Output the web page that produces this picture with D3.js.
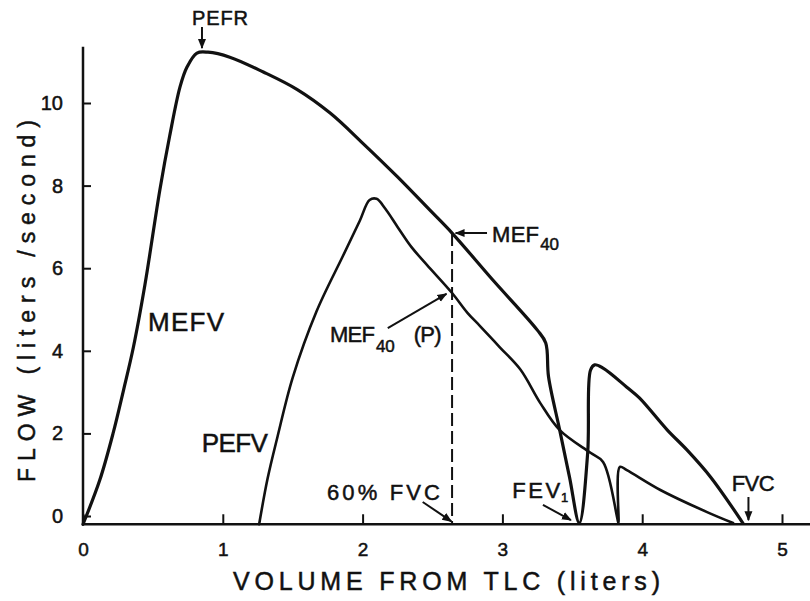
<!DOCTYPE html>
<html>
<head>
<meta charset="utf-8">
<script src="https://cdn.jsdelivr.net/npm/d3@7"></script>
<style>
  html, body { margin: 0; padding: 0; background: #fff; }
  svg { display: block; }
  text { font-family: "Liberation Sans", Arial, sans-serif; fill: #111; stroke: #111; stroke-width: 0.5px; }
</style>
</head>
<body>
<svg id="chart" width="810" height="601"></svg>
<script>
// ---- data (volume from TLC in liters, flow in liters/second) ----
const xTicks = [0, 1, 2, 3, 4, 5];
const yTicks = [0, 2, 4, 6, 8, 10];

const mefvVolume = [0, 0.12, 0.215, 0.29, 0.36, 0.443, 0.55, 0.62, 0.694, 0.744, 0.815, 0.894, 1.05, 1.29, 1.53, 1.77, 2.00, 2.25, 2.48, 2.64, 2.93, 3.25, 3.31, 3.33, 3.41, 3.48, 3.55, 3.61, 3.63, 3.66, 3.72, 3.89, 3.98, 4.18, 4.32, 4.49, 4.72];
const mefvFlow   = [-0.2, 0.87, 2.0, 3.05, 4.08, 5.6, 7.9, 9.2, 10.39, 10.87, 11.21, 11.23, 11.11, 10.75, 10.33, 9.75, 9.03, 8.21, 7.41, 6.85, 5.72, 4.50, 4.19, 3.37, 2.08, 0.94, -0.17, 1.53, 3.53, 3.66, 3.58, 3.12, 2.86, 2.08, 1.60, 0.94, -0.17];

const pefvVolume = [1.26, 1.32, 1.39, 1.50, 1.67, 1.86, 1.98, 2.05, 2.10, 2.16, 2.25, 2.35, 2.46, 2.64, 2.75, 2.84, 2.98, 3.13, 3.27, 3.41, 3.63, 3.72, 3.82, 3.83, 3.84, 3.89, 4.13, 4.46, 4.65];
const pefvFlow   = [-0.2, 0.9, 1.9, 3.35, 4.95, 6.3, 7.15, 7.65, 7.68, 7.45, 7.0, 6.51, 6.08, 5.40, 4.92, 4.60, 4.09, 3.54, 2.74, 2.08, 1.53, 1.31, -0.02, -0.17, 1.19, 1.11, 0.63, 0.10, -0.17];

const baselineFlow = -0.2;    // drawn x-axis line sits slightly below flow 0
const mef40Volume = 2.64;     // 60% FVC
const mef40Flow = 6.85;
const mef40pFlow = 5.40;

// ---- layout ----
const svg = d3.select("#chart");
const x = d3.scaleLinear().domain([0, 5]).range([83, 782]);
const y = d3.scaleLinear().domain([0, 10]).range([516, 103]);
const ink = "#111";

// arrowhead marker
svg.append("defs").append("marker")
  .attr("id", "arrow").attr("viewBox", "0 0 10 10")
  .attr("refX", 9).attr("refY", 5)
  .attr("markerWidth", 10).attr("markerHeight", 10)
  .attr("markerUnits", "userSpaceOnUse")
  .attr("orient", "auto")
  .append("path").attr("d", "M0,1 L10,5 L0,9 Z").attr("fill", ink);

// axes lines
svg.append("line")
  .attr("x1", x(0)).attr("x2", x(0))
  .attr("y1", y(11.36)).attr("y2", y(baselineFlow) + 1)
  .attr("stroke", ink).attr("stroke-width", 2.5);
svg.append("line")
  .attr("x1", x(0) - 1).attr("x2", 810)
  .attr("y1", y(baselineFlow)).attr("y2", y(baselineFlow))
  .attr("stroke", ink).attr("stroke-width", 2.5);

// y axis ticks + labels
const yAxis = svg.append("g").attr("transform", `translate(${x(0)},0)`)
  .call(d3.axisLeft(y).tickValues(yTicks).tickSizeInner(-8).tickSizeOuter(0).tickPadding(20).tickFormat(d3.format("d")));
yAxis.select(".domain").remove();
yAxis.selectAll("line").attr("stroke", ink).attr("stroke-width", 2);
yAxis.selectAll("text").attr("font-size", 20).attr("fill", ink)
  .style("font-family", "Liberation Sans, Arial, sans-serif");

// x axis ticks + labels
const xAxis = svg.append("g").attr("transform", `translate(0,${y(baselineFlow)})`)
  .call(d3.axisBottom(x).tickValues(xTicks).tickSizeInner(-10).tickSizeOuter(0).tickPadding(18).tickFormat(d3.format("d")));
xAxis.select(".domain").remove();
xAxis.selectAll("line").attr("stroke", ink).attr("stroke-width", 2);
xAxis.selectAll("text").attr("font-size", 19).attr("fill", ink)
  .style("font-family", "Liberation Sans, Arial, sans-serif");

// axis titles
svg.append("text")
  .attr("x", 233).attr("y", 590)
  .attr("font-size", 25)
  .attr("textLength", 427).attr("lengthAdjust", "spacing")
  .text("VOLUME FROM TLC (liters)");
svg.append("text")
  .attr("transform", "translate(35,482) rotate(-90)")
  .attr("font-size", 23)
  .attr("textLength", 362).attr("lengthAdjust", "spacing")
  .text("FLOW (liters /second)");

// curves
const line = d3.line()
  .x(d => x(d[0])).y(d => y(d[1]))
  .curve(d3.curveCatmullRom.alpha(0.5));

svg.append("path")
  .datum(d3.zip(mefvVolume, mefvFlow))
  .attr("d", line).attr("fill", "none")
  .attr("stroke", ink).attr("stroke-width", 3.2)
  .attr("stroke-linejoin", "round").attr("stroke-linecap", "round");

svg.append("path")
  .datum(d3.zip(pefvVolume, pefvFlow))
  .attr("d", line).attr("fill", "none")
  .attr("stroke", ink).attr("stroke-width", 2.6)
  .attr("stroke-linejoin", "round").attr("stroke-linecap", "round");

// dashed 60% FVC line
svg.append("line")
  .attr("x1", x(mef40Volume)).attr("x2", x(mef40Volume))
  .attr("y1", y(mef40Flow)).attr("y2", y(baselineFlow))
  .attr("stroke", ink).attr("stroke-width", 2)
  .attr("stroke-dasharray", "13 5");

// annotations
function arrow(v1, f1, v2, f2) {
  svg.append("line")
    .attr("x1", x(v1)).attr("y1", y(f1))
    .attr("x2", x(v2)).attr("y2", y(f2))
    .attr("stroke", ink).attr("stroke-width", 2)
    .attr("marker-end", "url(#arrow)");
}
function label(v, f, txt, size, len) {
  const t = svg.append("text").attr("x", x(v)).attr("y", y(f)).attr("font-size", size).text(txt);
  if (len) t.attr("textLength", len).attr("lengthAdjust", "spacing");
  return t;
}

// PEFR
label(0.78, 11.89, "PEFR", 20, 56);
arrow(0.851, 11.84, 0.851, 11.33);

// MEFV, PEFV
label(0.465, 4.48, "MEFV", 26, 76);
label(0.85, 1.55, "PEFV", 26, 66);

// MEF40
label(2.926, 6.63, "MEF", 22, 47);
label(3.27, 6.43, "40", 17);
arrow(2.89, mef40Flow, 2.665, mef40Flow);

// MEF40(P)
label(1.767, 4.21, "MEF", 22, 45);
label(2.095, 3.98, "40", 17);
label(2.365, 4.21, "(P)", 22, 28);
arrow(2.18, 4.55, 2.60, mef40pFlow - 0.02);

// 60% FVC
label(1.745, 0.39, "60% FVC", 22, 113);
arrow(2.43, 0.34, 2.635, -0.13);

// FEV1
label(3.07, 0.44, "FEV", 22, 48);
label(3.42, 0.34, "1", 13);
arrow(3.29, 0.27, 3.49, -0.10);

// FVC
label(4.64, 0.61, "FVC", 22, 43);
arrow(4.76, 0.46, 4.76, -0.10);
</script>
</body>
</html>
